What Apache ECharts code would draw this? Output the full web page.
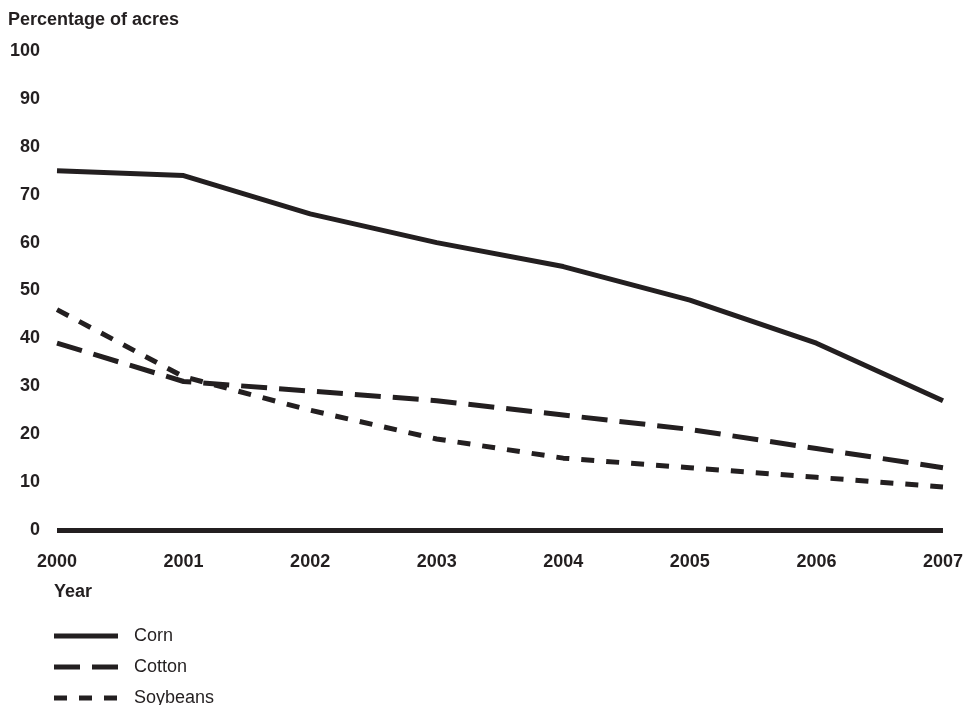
<!DOCTYPE html>
<html><head><meta charset="utf-8">
<script src="https://cdn.jsdelivr.net/npm/echarts@6/dist/echarts.min.js"></script>
<style>html,body{margin:0;padding:0;background:#fff}#c{width:966px;height:705px}</style>
</head><body><div id="c"></div>
<script>
const years = ['2000','2001','2002','2003','2004','2005','2006','2007'];
const corn = [75, 74, 66, 60, 55, 48, 39, 27];
const cotton = [39, 31, 29, 27, 24, 21, 17, 13];
const soybeans = [46, 32, 25, 19, 15, 13, 11, 9];
const yTicks = [0, 10, 20, 30, 40, 50, 60, 70, 80, 90, 100];
const seriesNames = ['Corn', 'Cotton', 'Soybeans'];

const ink = '#231f20';
const font = '"Liberation Sans", Arial, Helvetica, sans-serif';
const dashes = ['solid', [26, 12], [13, 12]];
const chart = echarts.init(document.getElementById('c'));
function mk(name, data, type) {
  return {
    name, type: 'line', data, symbol: 'none', showSymbol: false,
    lineStyle: { color: ink, width: 5, type, cap: 'butt' },
    itemStyle: { color: ink },
    emphasis: { disabled: true }, animation: false
  };
}
const legendGraphics = [];
seriesNames.forEach((n, i) => {
  const y = 636 + i * 31;
  legendGraphics.push({
    type: 'line', shape: { x1: 54, y1: y, x2: 118, y2: y },
    style: { stroke: ink, lineWidth: 5, lineDash: dashes[i] === 'solid' ? null : dashes[i], lineCap: 'butt' }
  });
  legendGraphics.push({
    type: 'text', x: 134, y: y, style: { text: n, fill: ink, font: '18px ' + font, textVerticalAlign: 'middle' }
  });
});
chart.setOption({
  animation: false,
  grid: { left: 57, right: 23, top: 51, bottom: 175 },
  xAxis: {
    type: 'category', data: years, boundaryGap: false,
    axisLine: { show: true, lineStyle: { color: ink, width: 5, cap: 'butt' } },
    axisTick: { show: false },
    axisLabel: { color: ink, fontWeight: 'bold', fontSize: 18, fontFamily: font, margin: 23 },
    splitLine: { show: false }
  },
  yAxis: {
    type: 'value', min: yTicks[0], max: yTicks[yTicks.length - 1], interval: 10,
    axisLine: { show: false }, axisTick: { show: false },
    axisLabel: { color: ink, fontWeight: 'bold', fontSize: 18, fontFamily: font, margin: 17 },
    splitLine: { show: false }
  },
  graphic: [
    { type: 'text', x: 8, y: 20, style: { text: 'Percentage of acres', fill: ink, font: 'bold 18px ' + font, textVerticalAlign: 'middle' } },
    { type: 'text', x: 54, y: 592, style: { text: 'Year', fill: ink, font: 'bold 18px ' + font, textVerticalAlign: 'middle' } }
  ].concat(legendGraphics),
  series: [
    mk(seriesNames[0], corn, dashes[0]),
    mk(seriesNames[1], cotton, dashes[1]),
    mk(seriesNames[2], soybeans, dashes[2])
  ]
});
</script></body></html>
